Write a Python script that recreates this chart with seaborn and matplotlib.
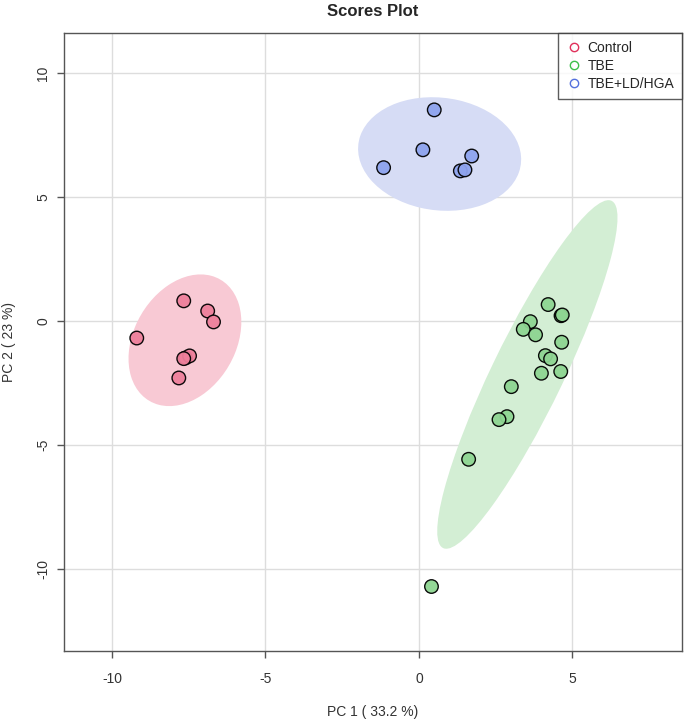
import numpy as np
import pandas as pd
import seaborn as sns
import matplotlib.pyplot as plt
from matplotlib.patches import Ellipse
from matplotlib.lines import Line2D

groups = ["Control", "TBE", "TBE+LD/HGA"]

control_pc1 = [-9.19, -7.66, -6.88, -6.69, -7.60, -7.47, -7.66, -7.82]
control_pc2 = [-0.69, 0.81, 0.40, -0.04, -1.49, -1.41, -1.52, -2.30]

tbe_pc1 = [4.21, 4.63, 4.67, 3.63, 3.40, 3.80, 4.65, 4.12, 4.29, 3.99, 4.62,
           3.01, 2.87, 2.61, 1.62, 0.41]
tbe_pc2 = [0.66, 0.21, 0.24, -0.03, -0.34, -0.56, -0.86, -1.40, -1.53, -2.11,
           -2.04, -2.65, -3.86, -3.98, -5.58, -10.71]

ld_pc1 = [0.50, 0.13, -1.15, 1.72, 1.35, 1.50]
ld_pc2 = [8.51, 6.90, 6.18, 6.65, 6.05, 6.09]

point_colors = {"Control": "#EE7F9B", "TBE": "#8ED592", "TBE+LD/HGA": "#8EA3EE"}
fill_colors = {"Control": "#F8C9D4", "TBE": "#D3EED4", "TBE+LD/HGA": "#D6DCF5"}
legend_colors = {"Control": "#E0305A", "TBE": "#3DBF4A", "TBE+LD/HGA": "#5470DD"}

df = pd.DataFrame({
    "PC1": control_pc1 + tbe_pc1 + ld_pc1,
    "PC2": control_pc2 + tbe_pc2 + ld_pc2,
    "group": ["Control"] * len(control_pc1) + ["TBE"] * len(tbe_pc1)
             + ["TBE+LD/HGA"] * len(ld_pc1),
})

sns.set_style("white")
plt.rcParams["font.family"] = ["Liberation Sans", "DejaVu Sans"]
plt.rcParams["axes.unicode_minus"] = False

fig = plt.figure(figsize=(6.85, 7.22), dpi=100)
ax = fig.add_axes([64 / 685, 1 - 651 / 722, 618 / 685, 618 / 722])

# 95% confidence ellipses
for g in groups:
    sub = df[df.group == g][["PC1", "PC2"]].values
    mu = sub.mean(axis=0)
    cov = np.cov(sub, rowvar=False)
    vals, vecs = np.linalg.eigh(cov)
    order = vals.argsort()[::-1]
    vals, vecs = vals[order], vecs[:, order]
    angle = np.degrees(np.arctan2(vecs[1, 0], vecs[0, 0]))
    k = np.sqrt(5.991)
    e = Ellipse(mu, 2 * k * np.sqrt(vals[0]), 2 * k * np.sqrt(vals[1]), angle=angle,
                facecolor=fill_colors[g], edgecolor="none", zorder=1)
    ax.add_patch(e)

sns.scatterplot(data=df, x="PC1", y="PC2", hue="group", palette=point_colors,
                s=95, edgecolor="black", linewidth=1.0, alpha=0.95, legend=False,
                ax=ax, zorder=3)

ax.set_xlim(-11.56, 8.57)
ax.set_ylim(-13.31, 11.61)
ax.set_xticks([-10, -5, 0, 5])
ax.set_yticks([-10, -5, 0, 5, 10])
ax.grid(True, color="#DDDDDD", linewidth=1.0, zorder=0)
ax.set_axisbelow(True)
for sp in ax.spines.values():
    sp.set_color("#555555")
    sp.set_linewidth(1.0)
ax.tick_params(direction="out", length=5, width=1, color="#555555",
               labelsize=10, labelcolor="#333333", bottom=True, left=True)
ax.tick_params(axis="x", pad=10)
ax.tick_params(axis="y", pad=5)
for lbl in ax.get_yticklabels():
    lbl.set_rotation(90)
    lbl.set_va("center")

ax.set_xlabel("PC 1 ( 33.2 %)", fontsize=10, color="#333333")
ax.xaxis.set_label_coords(0.5, -(712 - 651) / 618, transform=ax.transAxes)
ax.set_ylabel("PC 2 ( 23 %)", fontsize=10, color="#333333", va="center")
ax.yaxis.set_label_coords(-(64 - 9) / 618, 0.5, transform=ax.transAxes)
ax.xaxis.label.set_va("center")
ax.set_title("Scores Plot", fontsize=12, fontweight="bold", pad=12)

handles = [Line2D([], [], marker="o", linestyle="none", markerfacecolor="none",
                  markeredgecolor=legend_colors[g], markersize=6, markeredgewidth=1)
           for g in groups]
leg = ax.legend(handles, groups, loc="upper right", borderaxespad=0, fontsize=10,
                frameon=True, fancybox=False, handletextpad=0.4, labelspacing=0.3,
                handlelength=1.2, borderpad=0.55)
leg.get_frame().set_edgecolor("#333333")
leg.get_frame().set_linewidth(1.0)

fig.savefig("out.png", dpi=100)
